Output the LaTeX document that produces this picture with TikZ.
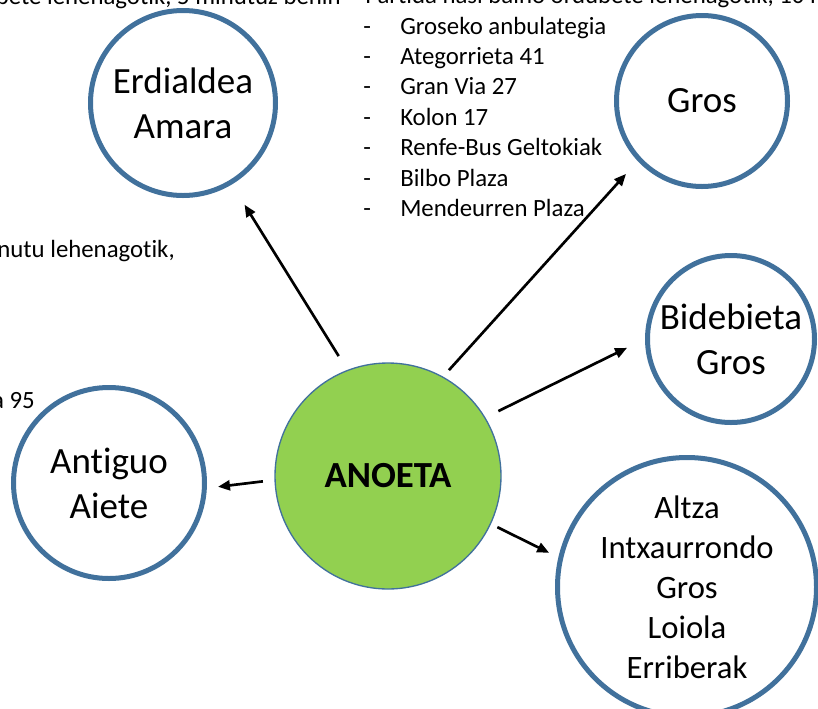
\documentclass[tikz,border=0pt]{standalone}
\usepackage{fontspec}
\setmainfont{Carlito}[Ligatures=NoCommon]
\usetikzlibrary{arrows.meta}
\definecolor{ringblue}{RGB}{65,113,156}
\definecolor{anoetagreen}{RGB}{146,208,80}
\begin{document}
\begin{tikzpicture}[x=0.75pt,y=-0.75pt,
  ring/.style={circle,draw=ringblue,line width=3.75pt,inner sep=0pt,align=center,font=\fontsize{27.75}{33.75}\selectfont},
  hub/.style={circle,draw=ringblue,line width=1pt,fill=anoetagreen,inner sep=0pt,minimum size=169.5pt,font=\fontsize{27.6}{33}\selectfont\bfseries},
  conn/.style={line width=2pt,-{Triangle[length=9pt,width=7.5pt]}},
  note/.style={inner sep=0pt,font=\fontsize{18.6}{22.8}\selectfont}]
\useasboundingbox (0,0) rectangle (818,708);
\begin{scope}
\clip (0,0) rectangle (818,708);
% circles
\node[ring,minimum size=138.75pt] (erd) at (183,103) {Erdialdea\\Amara};
\node[ring,minimum size=128.25pt] (gros) at (702,101) {Gros};
\node[ring,minimum size=125.25pt] (bid) at (731,339) {Bidebieta\\Gros};
\node[ring,minimum size=143.25pt] (ant) at (109,483) {Antiguo\\Aiete};
\node[ring,minimum size=194.25pt,font=\fontsize{24.5}{30}\selectfont] (alt) at (687,587) {Altza\\Intxaurrondo\\Gros\\Loiola\\Erriberak};
\node[hub] (an) at (388,476) {ANOETA};
% connectors
\draw[conn,shorten <=12.2pt,shorten >=17.9pt] (an.111.2) -- (erd.-59.1);
\draw[conn,shorten <=6.5pt,shorten >=13pt] (an.61.1) -- (gros.-137);
\draw[conn,shorten <=10.8pt,shorten >=15pt] (an.31.6) -- (bid.180);
\draw[conn,shorten <=8.7pt,shorten >=8.4pt] (an.182.3) -- (ant.-3.7);
\draw[conn,shorten <=5.3pt,shorten >=7.7pt] (an.-25.7) -- (alt.167.7);
% texts
\node[note,anchor=base east] (hdl) at (341,4) {ordubete lehenagotik, 5 minutuz behin};
\node[note,anchor=base west] (hdr) at (365,3) {Partida hasi baino ordubete lehenagotik, 10 minutuz behin};
\node[note,anchor=base east] (lt1) at (175,257) {minutu lehenagotik,};
\node[note,anchor=base east] (lt2) at (35,408) {a 95};
\foreach \t [count=\i] in {Groseko anbulategia, Ategorrieta 41, Gran Via 27, Kolon 17, Renfe-Bus Geltokiak, Bilbo Plaza, Mendeurren Plaza} {
  \node[note,anchor=base west] (dash\i) at (363,{3.6+30.4*\i}) {-};
  \node[note,anchor=base west] (item\i) at (400,{3.6+30.4*\i}) {\t};
}
\end{scope}
\end{tikzpicture}
\end{document}
